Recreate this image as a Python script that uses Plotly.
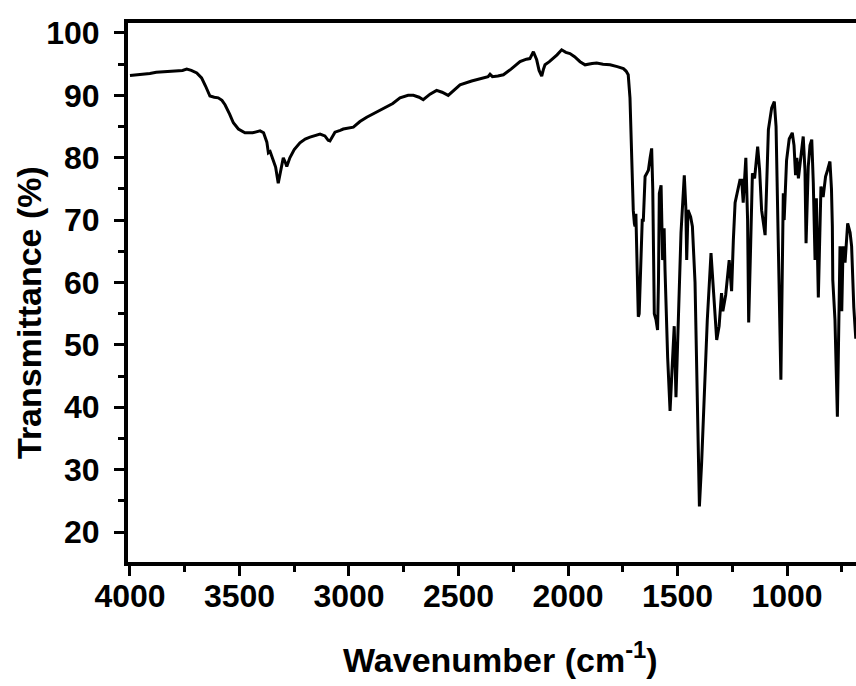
import plotly.graph_objects as go

# Wavenumber (cm-1) and transmittance (%)
wavenumber = [
    4000, 3960, 3909, 3880, 3848, 3800, 3760, 3741, 3720, 3695, 3673, 3655, 3635, 3615,
    3597, 3580, 3566, 3545, 3528, 3505, 3475, 3440, 3406, 3390, 3384, 3375, 3368, 3360,
    3348, 3335, 3323, 3312, 3300, 3290, 3284, 3270, 3250, 3224, 3200, 3178, 3150, 3132,
    3110, 3095, 3087, 3075, 3064, 3040, 3026, 2980, 2950, 2919, 2880, 2843, 2800, 2767,
    2730, 2706, 2680, 2661, 2630, 2600, 2575, 2547, 2520, 2493, 2440, 2387, 2365, 2356,
    2345, 2320, 2295, 2260, 2219, 2190, 2174, 2158, 2143, 2132, 2120, 2112, 2105, 2085,
    2067, 2050, 2029, 2010, 1991, 1970, 1945, 1922, 1890, 1869, 1840, 1808, 1775, 1747,
    1735, 1725, 1717, 1710, 1702, 1697, 1694, 1690, 1686, 1679, 1675, 1668, 1661, 1656,
    1648, 1640, 1633, 1625, 1618, 1613, 1606, 1598, 1591, 1587, 1583, 1575, 1568, 1561,
    1557, 1545, 1534, 1525, 1515, 1507, 1497, 1484, 1469, 1462, 1458, 1452, 1440, 1432,
    1420, 1408, 1400, 1390, 1382, 1364, 1347, 1335, 1321, 1310, 1299, 1293, 1280, 1264,
    1253, 1245, 1237, 1215, 1207, 1200, 1188, 1180, 1175, 1166, 1158, 1148, 1134, 1125,
    1116, 1100, 1092, 1085, 1070, 1058, 1050, 1043, 1028, 1017, 1013, 1002, 990, 976,
    968, 961, 955, 948, 935, 926, 918, 913, 903, 895, 887, 880, 872, 866, 857, 845, 835,
    824, 815, 804, 797, 793, 791, 781, 770, 764, 758, 750, 744, 735, 723, 712, 705, 695,
    686,
]
transmittance = [
    93.2, 93.3, 93.5, 93.7, 93.8, 93.9, 94.0, 94.2, 94.0, 93.6, 92.8, 91.5, 89.9, 89.7,
    89.6, 89.2, 88.5, 87.0, 85.6, 84.6, 84.0, 84.0, 84.3, 84.0, 83.4, 82.5, 80.8, 81.0,
    79.8, 78.5, 75.9, 78.0, 80.0, 79.2, 78.6, 80.0, 81.3, 82.4, 83.0, 83.3, 83.6, 83.8,
    83.5, 82.8, 82.7, 83.5, 84.1, 84.4, 84.6, 84.9, 85.8, 86.5, 87.2, 87.8, 88.7, 89.6,
    90.0, 90.0, 89.7, 89.3, 90.2, 90.8, 90.5, 90.0, 90.9, 91.7, 92.3, 92.8, 93.0, 93.4,
    93.0, 93.1, 93.3, 94.2, 95.4, 95.8, 95.9, 97.0, 95.7, 94.0, 93.1, 94.2, 94.9, 95.4,
    95.9, 96.5, 97.3, 96.9, 96.7, 96.2, 95.4, 94.9, 95.1, 95.2, 95.0, 94.9, 94.6, 94.3,
    93.9, 93.3, 89.6, 80.0, 71.6, 69.5, 69.0, 71.0, 65.0, 54.5, 55.0, 62.0, 70.0, 70.0,
    77.0, 77.5, 78.0, 80.0, 81.5, 75.0, 55.0, 54.0, 52.4, 60.0, 74.3, 75.6, 63.6, 68.7,
    62.0, 48.0, 39.4, 46.0, 53.0, 41.6, 54.0, 68.0, 77.2, 72.0, 63.6, 71.6, 70.5, 69.0,
    60.0, 38.0, 24.1, 31.0, 37.4, 54.0, 64.7, 58.0, 50.8, 53.0, 58.3, 55.4, 58.0, 63.6,
    58.6, 66.8, 72.8, 76.4, 76.4, 72.8, 80.0, 70.0, 53.6, 66.0, 77.5, 76.7, 81.8, 78.0,
    71.6, 67.6, 76.0, 84.5, 88.0, 89.0, 85.0, 71.6, 44.4, 74.3, 70.0, 79.6, 83.0, 84.0,
    82.0, 77.2, 80.0, 76.7, 81.0, 83.4, 78.0, 66.3, 78.6, 82.0, 82.9, 76.0, 63.6, 73.5,
    57.6, 75.4, 73.7, 77.0, 78.0, 79.4, 75.0, 69.0, 60.4, 54.0, 38.5, 50.0, 65.8, 55.4,
    65.8, 63.2, 69.5, 68.0, 65.8, 56.0,
    51.0,
]

x_tick_vals = [4000, 3500, 3000, 2500, 2000, 1500, 1000]
y_tick_vals = [20, 30, 40, 50, 60, 70, 80, 90, 100]

W, H = 856, 686
L, R, T, B = 128, 0, 23, 124

fig = go.Figure()
fig.add_trace(go.Scatter(
    x=wavenumber, y=transmittance, mode="lines",
    line=dict(color="black", width=3), showlegend=False, hoverinfo="skip",
))

axis_font = dict(family="Liberation Sans, Arial, sans-serif", size=32, color="black", weight="bold")
title_font = dict(family="Liberation Sans, Arial, sans-serif", size=34, color="black", weight="bold")

fig.update_xaxes(
    range=[4009, 685], tickmode="array", tickvals=x_tick_vals,
    ticktext=[str(v) for v in x_tick_vals],
    ticks="outside", ticklen=10, tickwidth=3, tickcolor="black",
    minor=dict(dtick=250, tick0=0, ticks="outside", ticklen=6, tickwidth=3, tickcolor="black"),
    showline=True, linewidth=4, linecolor="black", mirror=True,
    showgrid=False, zeroline=False, tickfont=axis_font, ticklabelstandoff=-7,
)
fig.update_yaxes(
    range=[15.2, 101.6], tickmode="array", tickvals=y_tick_vals,
    ticktext=[str(v) for v in y_tick_vals],
    ticks="outside", ticklen=10, tickwidth=3, tickcolor="black",
    minor=dict(dtick=5, tick0=0, ticks="outside", ticklen=6, tickwidth=3, tickcolor="black"),
    showline=True, linewidth=4, linecolor="black",
    showgrid=False, zeroline=False, tickfont=axis_font, ticklabelstandoff=8,
)

pw = W - L - R
ph = H - T - B

def px_to_paper_x(px):
    return (px - L) / pw

def px_to_paper_y(py):
    return (H - B - py) / ph

fig.add_annotation(
    text="Transmittance (%)", xref="paper", yref="paper",
    x=px_to_paper_x(29), y=px_to_paper_y(313), xanchor="center", yanchor="middle",
    textangle=-90, showarrow=False, font=title_font,
)
fig.add_annotation(
    text="Wavenumber (cm<sup>-1</sup>)", xref="paper", yref="paper",
    x=px_to_paper_x(500), y=px_to_paper_y(657), xanchor="center", yanchor="middle",
    showarrow=False, font=title_font,
)

fig.update_layout(
    width=W, height=H,
    margin=dict(l=L, r=R, t=T, b=B, pad=0),
    plot_bgcolor="white", paper_bgcolor="white",
)

fig.write_html("out.html")
